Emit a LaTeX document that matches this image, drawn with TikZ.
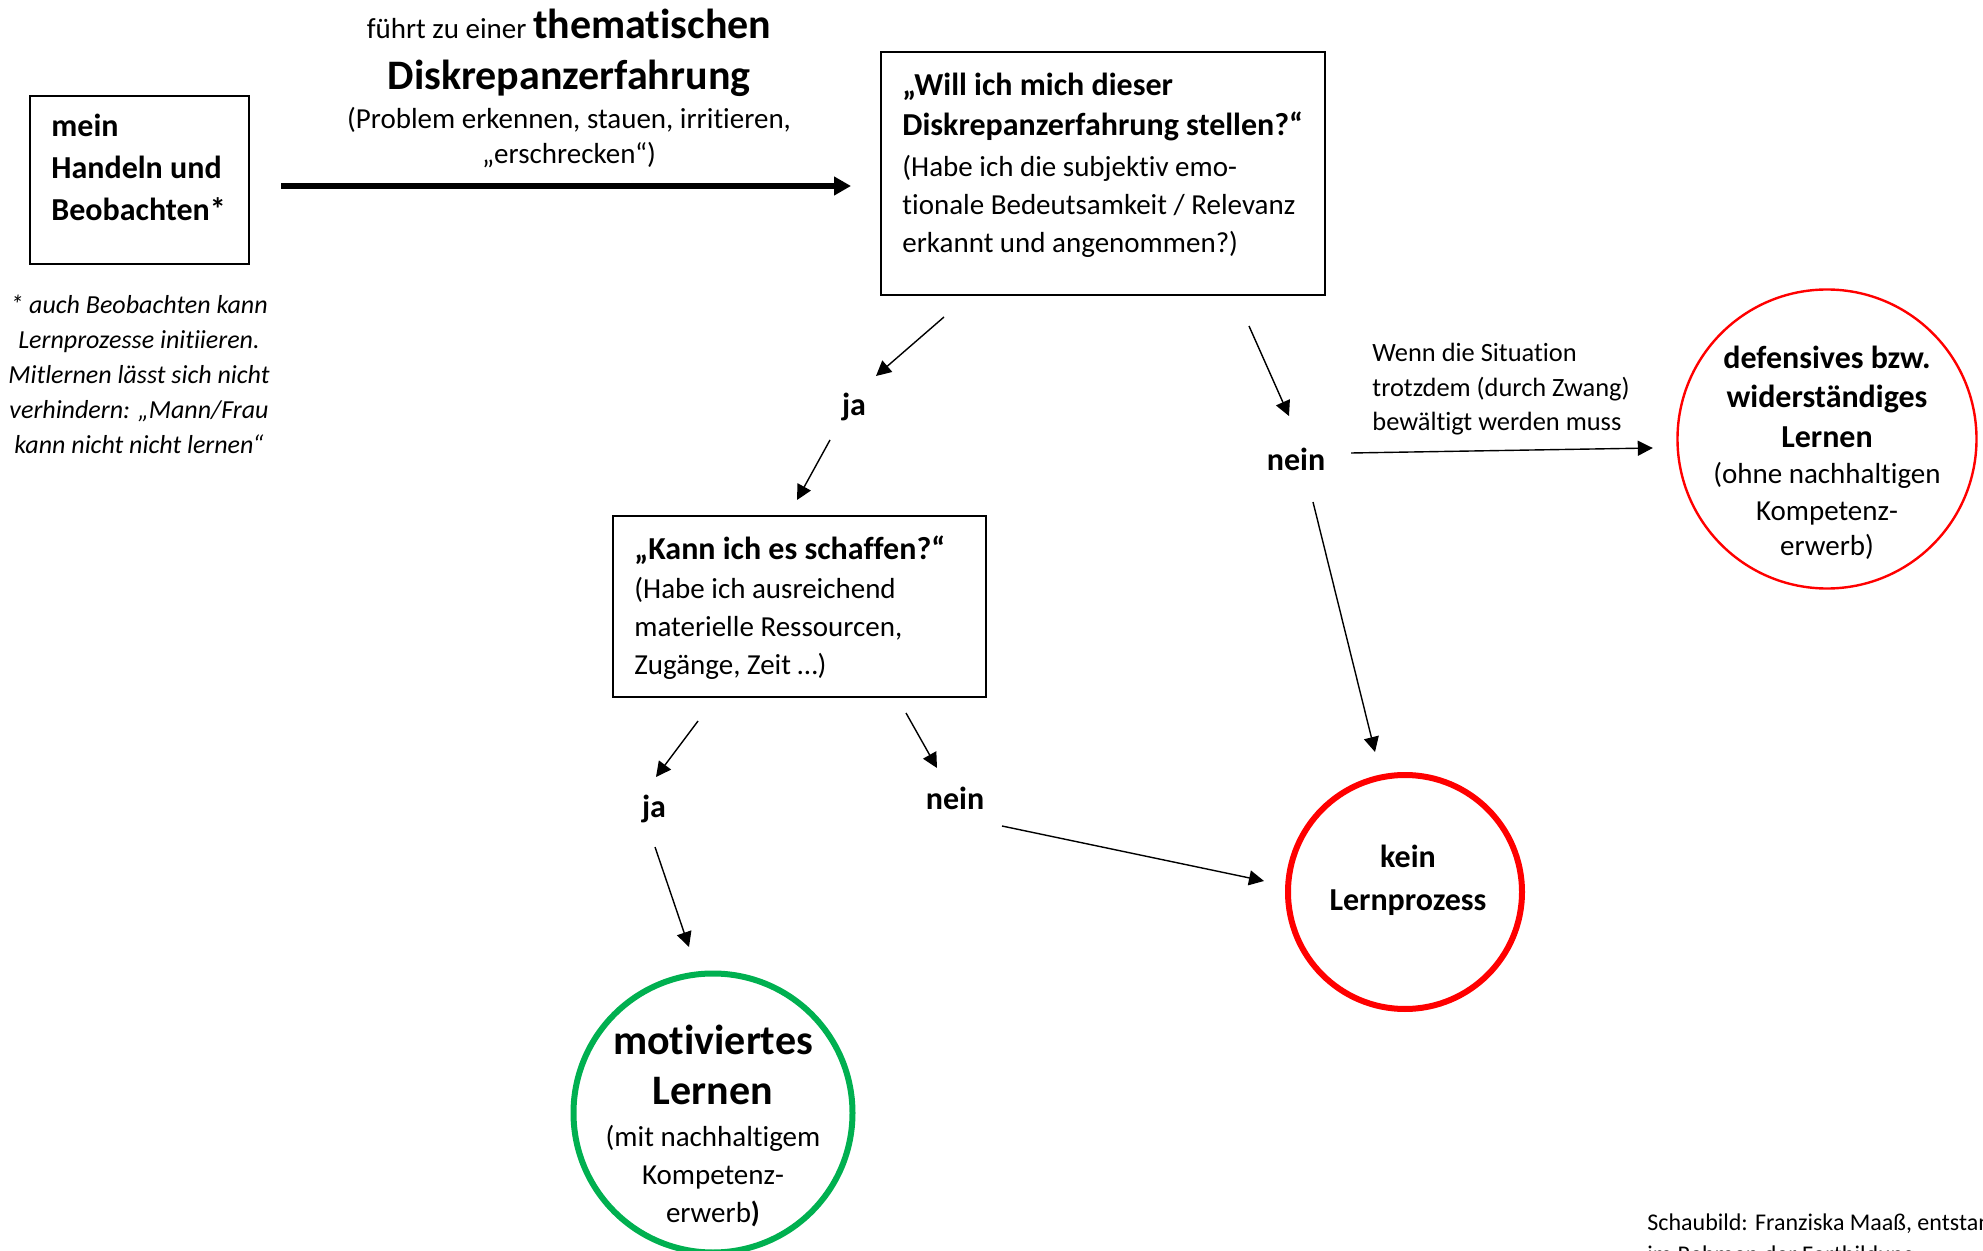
\documentclass[tikz,border=0pt]{standalone}
\usepackage{fontspec}
\setmainfont{Carlito}[Ligatures=NoCommon]
\usetikzlibrary{arrows.meta,positioning}
\definecolor{rot}{RGB}{255,0,0}
\definecolor{gruen}{RGB}{0,176,80}
\newcommand{\fett}[1]{{\fontsize{16}{19}\selectfont\bfseries #1}}
\newcommand{\gross}[1]{{\fontsize{21}{19}\selectfont\bfseries #1}}

\begin{document}
\begin{tikzpicture}[x=0.5pt,y=-0.5pt,
  kasten/.style={draw=black,line width=1pt,inner sep=0pt},
  kreis/.style={circle,inner sep=0pt},
  inhalt/.style={inner sep=0pt,align=left,anchor=base west},
  mitte/.style={inner sep=0pt,align=center,anchor=base},
  antwort/.style={inner sep=0pt,font=\fontsize{16}{19}\selectfont\bfseries},
  pfeil/.style={-{Triangle[length=7.5pt,width=7.5pt]},line width=0.7pt}]
\useasboundingbox (0,0) rectangle (1983,1251);
\clip (0,0) rectangle (1983,1251);

\node[kasten,minimum width=109.5pt,minimum height=84pt](handeln) at (139.5,180) {};
\node[inhalt,font=\fontsize{16}{21}\selectfont\bfseries](handelntext) at (51,221) {mein\\Handeln und\\Beobachten*};
\node[mitte,font=\fontsize{13}{17.5}\selectfont\itshape](fussnote) at (139,454) {* auch Beobachten kann\\Lernprozesse initiieren.\\Mitlernen lässt sich nicht\\verhindern: „Mann/Frau\\kann nicht nicht lernen“};

\node[mitte,font=\fontsize{14.5}{17.5}\selectfont](erfahrung) at (569,164) {führt zu einer \gross{thematischen}\\[8pt]\gross{Diskrepanzerfahrung}\\[2pt](Problem erkennen, stauen, irritieren,\\„erschrecken“)};

\node[kasten,minimum width=222pt,minimum height=121.5pt](stellen) at (1103,173.5) {};
\node[inhalt,font=\fontsize{14.5}{19}\selectfont](stellentext) at (902,253) {\fett{„Will ich mich dieser}\\[1pt]\fett{Diskrepanzerfahrung stellen?“}\\[1.5pt](Habe ich die subjektiv emo-\\tionale Bedeutsamkeit / Relevanz\\erkannt und angenommen?)};

\node[kasten,minimum width=186.5pt,minimum height=90.5pt](schaffen) at (799.5,606.5) {};
\node[inhalt,font=\fontsize{14.5}{19}\selectfont](schaffentext) at (634,675) {\fett{„Kann ich es schaffen?“}\\[1pt](Habe ich ausreichend\\materielle Ressourcen,\\Zugänge, Zeit …)};

\node[antwort](ja1) at (854,407) {ja};
\node[antwort](nein1) at (1296,459) {nein};
\node[antwort](ja2) at (654,809) {ja};
\node[antwort](nein2) at (955,798) {nein};

\node[inhalt,font=\fontsize{13.2}{17.25}\selectfont](zwang) at (1372,431) {Wenn die Situation\\trotzdem (durch Zwang)\\bewältigt werden muss};

\node[kreis,draw=rot,line width=1.2pt,minimum size=149.5pt](defensiv) at (1827,439) {};
\node[mitte,font=\fontsize{14.5}{18.5}\selectfont](defensivtext) at (1827,556) {\fett{defensives bzw.}\\[1pt]\fett{widerständiges}\\[1pt]\fett{Lernen}\\(ohne nachhaltigen\\Kompetenz-\\[-1pt]erwerb)};

\node[kreis,draw=rot,line width=3pt,minimum size=117pt](kein) at (1405,892) {};
\node[mitte,font=\fontsize{16}{21.5}\selectfont\bfseries](keintext) at (1408,910) {kein\\Lernprozess};

\node[kreis,draw=gruen,line width=3pt,minimum size=139.5pt](motiviert) at (713,1113) {};
\node[mitte,font=\fontsize{14.5}{19}\selectfont](motivierttext) at (713,1222) {\gross{motiviertes}\\[6pt]\gross{Lernen}\\[2pt](mit nachhaltigem\\Kompetenz-\\erwerb\textbf{)}};

\node[inhalt,font=\fontsize{12}{16}\selectfont](quelle) at (1647,1262) {Schaubild: Franziska Maaß, entstanden\\im Rahmen der Fortbildung};

\draw[-{Triangle[length=8.5pt,width=9pt]},line width=3pt] ([xshift=15.5pt,yshift=-3pt]handeln.east) -- ([xshift=-14.5pt,yshift=-6.25pt]stellen.west);
\draw[pfeil] ([xshift=32pt,yshift=-10.5pt]stellen.south west) -- ([xshift=11pt,yshift=15.5pt]ja1.center);
\draw[pfeil] ([xshift=-12pt,yshift=-16.5pt]ja1.center) -- ([xshift=92.5pt,yshift=7.5pt]schaffen.north west);
\draw[pfeil] ([xshift=-38.5pt,yshift=-15pt]stellen.south east) -- ([xshift=-3.5pt,yshift=21.5pt]nein1.center);
\draw[pfeil] ([xshift=27.5pt,yshift=3pt]nein1.center) -- ([xshift=-11.75pt,yshift=-4.5pt]defensiv.west);
\draw[pfeil] ([xshift=8.5pt,yshift=-21.5pt]nein1.center) -- ([xshift=-15pt,yshift=10pt]kein.north);
\draw[pfeil] ([xshift=43pt,yshift=-11.5pt]schaffen.south west) -- ([xshift=1pt,yshift=16pt]ja2.center);
\draw[pfeil] ([xshift=0.5pt,yshift=-19pt]ja2.center) -- ([xshift=-12pt,yshift=11.75pt]motiviert.north);
\draw[pfeil] ([xshift=147pt,yshift=-7.5pt]schaffen.south west) -- ([xshift=-9pt,yshift=15pt]nein2.center);
\draw[pfeil] ([xshift=23.5pt,yshift=-14pt]nein2.center) -- ([xshift=-10.5pt,yshift=5.5pt]kein.west);
\end{tikzpicture}
\end{document}
